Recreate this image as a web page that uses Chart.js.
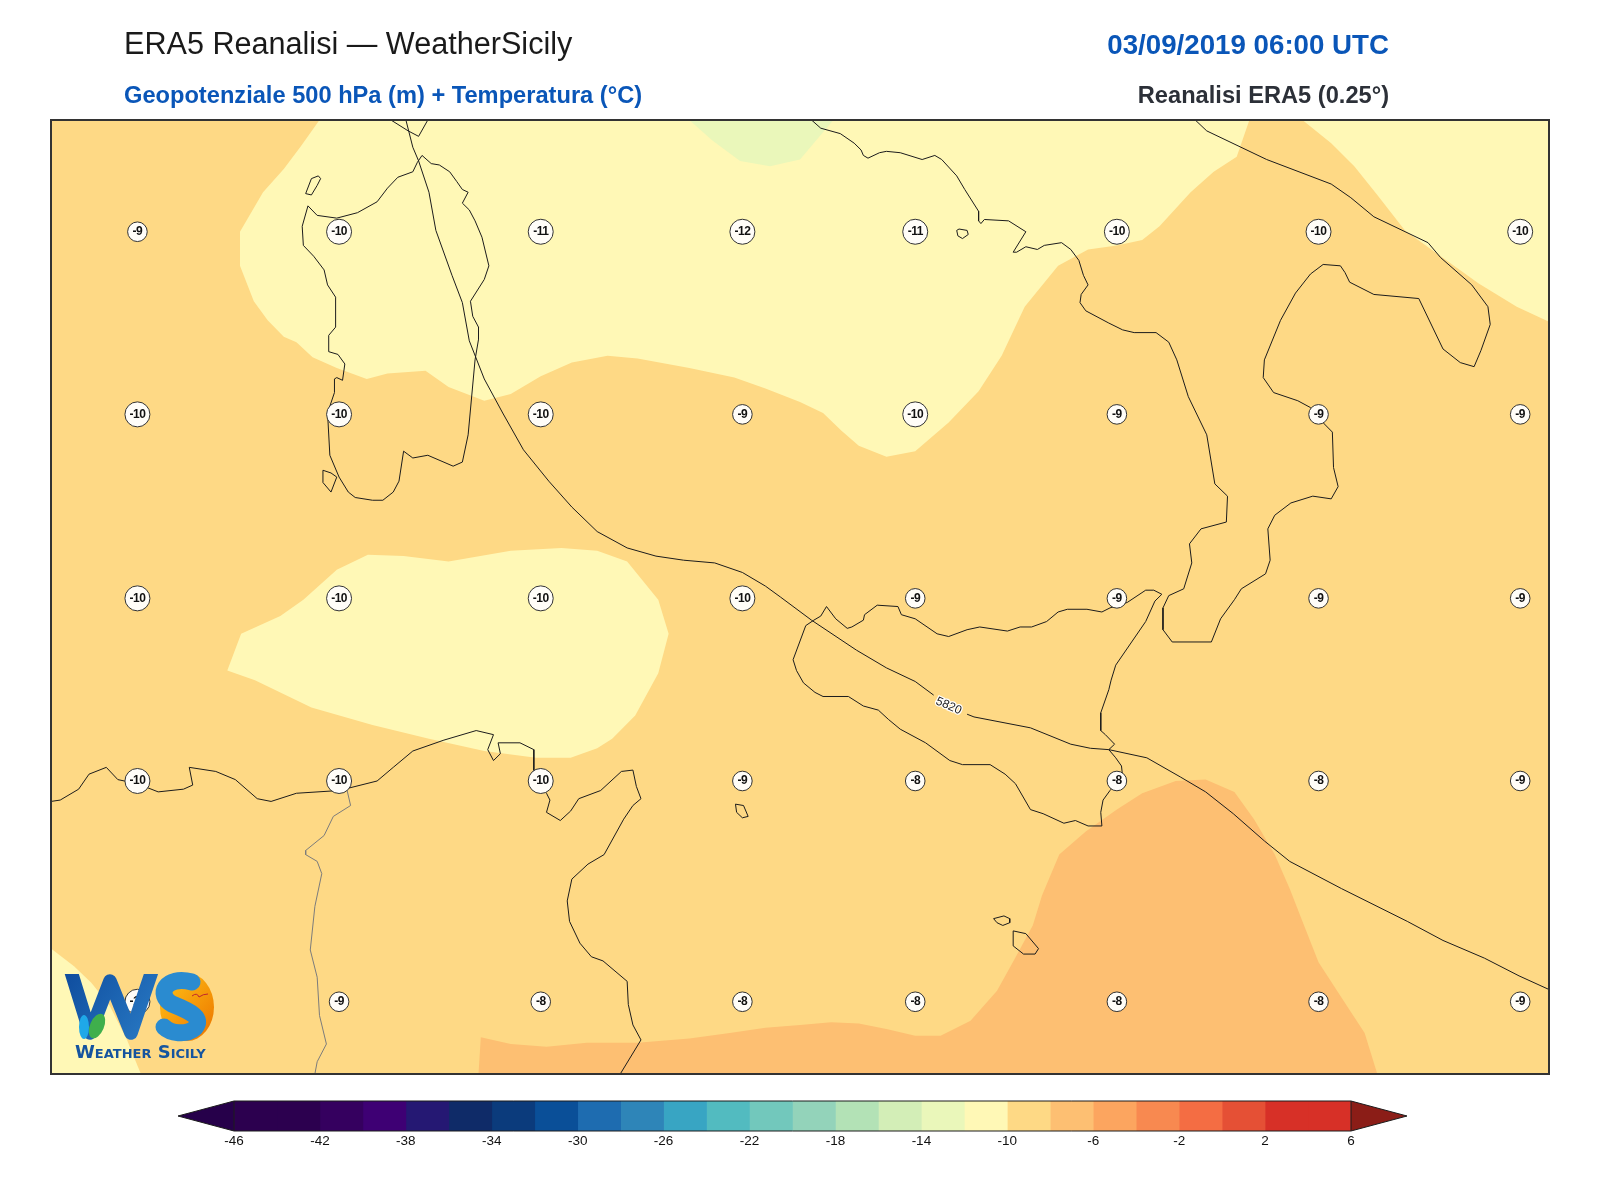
<!DOCTYPE html>
<html>
<head>
<meta charset="utf-8">
<title>ERA5 Reanalisi - WeatherSicily</title>
<script src="https://cdn.jsdelivr.net/npm/chart.js@4"></script>
<style>
  html, body { margin: 0; padding: 0; background: #fff; }
  #wrap { position: relative; width: 1600px; height: 1200px; }
  #map { position: absolute; left: 0; top: 0; }
  #bar { position: absolute; left: 0; top: 1090px; }
</style>
</head>
<body>
<div id="wrap">
  <canvas id="map" width="1600" height="1200"></canvas>
  <canvas id="bar" width="1600" height="70"></canvas>
</div>
<script>
// temperature labels at 500 hPa, one list per row of the grid
var gridLons = [6.75, 8.5, 10.25, 12, 13.5, 15.25, 17, 18.75];
var gridLats = [41.18, 39.84, 38.49, 37.15, 35.53];
var tempRow1 = [-9, -10, -11, -12, -11, -10, -10, -10];
var tempRow2 = [-10, -10, -10, -9, -10, -9, -9, -9];
var tempRow3 = [-10, -10, -10, -10, -9, -9, -9, -9];
var tempRow4 = [-10, -10, -10, -9, -8, -8, -8, -9];
var tempRow5 = [-10, -9, -8, -8, -8, -8, -8, -9];

// colour bar
var cbLevels = [-46,-44,-42,-40,-38,-36,-34,-32,-30,-28,-26,-24,-22,-20,-18,-16,-14,-12,-10,-8,-6,-4,-2,0,2,4,6];
var cbColors = ['#2c004f','#2c004f','#35005f','#3e0074','#251873','#0f2b68','#0b3b7c','#0a4f98','#1e6cb0','#2e85b8','#38a5c3','#52bbc0','#72c8bc','#93d3ba','#b3e2b6','#d3eeb7','#eaf7ba','#fff8b6','#fed985','#fdbf72','#fca55f','#f88950','#f46d43','#e55035','#d73027','#d73027'];
var cbTicks = [-46,-42,-38,-34,-30,-26,-22,-18,-14,-10,-6,-2,2,6];

// temperature bands, lon/lat
var bandBase = [[6,35],[19,35],[19,42],[6,42]];
var bandYellowNorth = [[8.33,42],[8.17,41.81],[8.02,41.64],[7.84,41.47],[7.64,41.18],[7.64,40.93],[7.76,40.67],[7.88,40.53],[8.02,40.41],[8.13,40.37],[8.27,40.26],[8.48,40.18],[8.74,40.10],[8.92,40.14],[9.25,40.16],[9.45,40.04],[9.76,39.94],[9.99,39.99],[10.25,40.12],[10.52,40.22],[10.83,40.27],[11.09,40.25],[11.54,40.18],[11.93,40.11],[12.20,40.03],[12.50,39.93],[12.70,39.85],[12.86,39.72],[13.01,39.61],[13.25,39.53],[13.50,39.57],[13.79,39.78],[14.05,40.01],[14.25,40.27],[14.45,40.63],[14.74,40.93],[15.00,41.05],[15.25,41.08],[15.47,41.12],[15.62,41.22],[15.89,41.47],[16.09,41.62],[16.29,41.73],[16.40,42]];
var bandYellowNE = [[16.86,42],[17.11,41.83],[17.31,41.66],[17.51,41.45],[17.75,41.19],[18.06,41.00],[18.39,40.80],[18.72,40.63],[19,40.52],[19,42]];
var bandGreen = [[11.54,42],[11.74,41.85],[11.98,41.70],[12.24,41.66],[12.50,41.71],[12.63,41.84],[12.79,42]];
var bandYellowSouth = [[8.75,38.81],[9.06,38.80],[9.45,38.76],[9.99,38.84],[10.43,38.86],[10.74,38.84],[11.00,38.76],[11.27,38.48],[11.36,38.23],[11.27,37.94],[11.07,37.63],[10.87,37.46],[10.74,37.39],[10.51,37.32],[10.21,37.32],[9.76,37.37],[9.28,37.46],[8.79,37.56],[8.26,37.69],[7.77,37.89],[7.53,37.96],[7.65,38.23],[7.99,38.36],[8.19,38.48],[8.48,38.70]];
var bandYellowSW = [[6,35.92],[6.20,35.79],[6.35,35.67],[6.51,35.50],[6.66,35.25],[6.78,35],[6,35]];
var bandOrange = [[9.71,35],[9.73,35.27],[9.99,35.22],[10.30,35.20],[10.65,35.23],[11.09,35.23],[11.54,35.26],[11.89,35.30],[12.20,35.34],[12.50,35.36],[12.77,35.38],[13.01,35.37],[13.25,35.33],[13.50,35.28],[13.72,35.28],[13.98,35.39],[14.21,35.61],[14.36,35.84],[14.52,36.09],[14.60,36.31],[14.75,36.61],[14.98,36.78],[15.25,36.94],[15.47,37.06],[15.76,37.15],[16.02,37.16],[16.27,37.07],[16.44,36.87],[16.62,36.61],[16.75,36.36],[16.86,36.12],[17.00,35.82],[17.20,35.56],[17.40,35.30],[17.51,35]];

// 5820 m isoline, split where its label sits
var iso5820a = [[9.08,42],[9.14,41.80],[9.19,41.70],[9.28,41.47],[9.34,41.19],[9.48,40.86],[9.57,40.66],[9.63,40.38],[9.76,40.10],[9.92,39.85],[10.10,39.58],[10.32,39.35],[10.52,39.16],[10.74,38.98],[11.00,38.86],[11.25,38.80],[11.49,38.77],[11.76,38.75],[12.00,38.68],[12.20,38.58],[12.33,38.50],[12.60,38.33],[12.99,38.11],[13.25,37.98],[13.50,37.88],[13.66,37.78]];
var iso5820b = [[13.95,37.64],[14.01,37.62],[14.50,37.54],[14.85,37.42],[15.02,37.39],[15.18,37.38],[15.51,37.32],[15.80,37.18],[16.02,37.07],[16.26,36.91],[16.53,36.71],[16.75,36.56],[17.20,36.36],[17.77,36.12],[18.08,35.98],[18.44,35.85],[18.74,35.72],[19,35.62]];
var isoLabel = [13.79, 37.70];

// coastlines
var coastSardinia = [[8.23,41.37],[8.31,41.30],[8.48,41.28],[8.66,41.32],[8.83,41.40],[8.92,41.50],[9.01,41.58],[9.14,41.62],[9.18,41.69],[9.22,41.74],[9.30,41.68],[9.37,41.67],[9.46,41.62],[9.52,41.55],[9.57,41.49],[9.62,41.47],[9.57,41.39],[9.63,41.34],[9.68,41.26],[9.74,41.14],[9.80,40.93],[9.76,40.83],[9.64,40.67],[9.66,40.56],[9.71,40.48],[9.71,40.39],[9.68,40.24],[9.62,39.69],[9.57,39.49],[9.49,39.46],[9.27,39.54],[9.14,39.52],[9.06,39.57],[9.02,39.35],[8.97,39.27],[8.88,39.21],[8.79,39.21],[8.64,39.23],[8.58,39.27],[8.50,39.38],[8.42,39.54],[8.40,39.85],[8.46,40.00],[8.46,40.10],[8.48,40.11],[8.53,40.09],[8.55,40.21],[8.49,40.28],[8.41,40.30],[8.41,40.42],[8.47,40.48],[8.47,40.70],[8.40,40.79],[8.37,40.90],[8.28,41.00],[8.19,41.08],[8.18,41.22],[8.23,41.37]];
var coastAsinara = [[8.26,41.57],[8.32,41.59],[8.34,41.57],[8.31,41.52],[8.26,41.45],[8.21,41.46],[8.26,41.57]];
var coastSanPietro = [[8.36,39.43],[8.43,39.41],[8.48,39.38],[8.43,39.27],[8.36,39.34],[8.36,39.43]];
var coastCorsica = [[8.95,42],[9.10,41.92],[9.19,41.88],[9.27,42]];
var coastItaly = [[12.60,42],[12.68,41.94],[12.85,41.90],[12.97,41.83],[13.03,41.78],[13.05,41.74],[13.09,41.72],[13.19,41.76],[13.25,41.77],[13.37,41.76],[13.56,41.71],[13.67,41.74],[13.73,41.71],[13.86,41.59],[13.93,41.49],[14.05,41.33],[14.05,41.26],[14.07,41.24],[14.10,41.27],[14.31,41.26],[14.46,41.18],[14.35,41.03],[14.38,41.03],[14.46,41.07],[14.56,41.05],[14.62,41.08],[14.77,41.10],[14.85,41.05],[14.92,40.97],[14.96,40.86],[15.00,40.79],[14.94,40.72],[14.93,40.66],[14.98,40.60],[15.18,40.51],[15.30,40.46],[15.40,40.44],[15.59,40.44],[15.70,40.37],[15.77,40.24],[15.87,39.97],[16.03,39.69],[16.10,39.33],[16.21,39.24],[16.20,39.05],[15.98,39.00],[15.88,38.89],[15.90,38.75],[15.83,38.56],[15.70,38.51],[15.65,38.42],[15.65,38.26],[15.73,38.17],[16.07,38.17],[16.15,38.34],[16.27,38.48],[16.33,38.56],[16.54,38.67],[16.58,38.77],[16.56,39.00],[16.62,39.10],[16.76,39.19],[16.95,39.24],[17.11,39.22],[17.17,39.31],[17.13,39.45],[17.12,39.71],[17.05,39.77],[16.93,39.89],[16.82,39.94],[16.61,40.00],[16.52,40.11],[16.53,40.24],[16.67,40.53],[16.80,40.73],[16.93,40.87],[17.04,40.94],[17.19,40.93],[17.23,40.88],[17.27,40.81],[17.48,40.72],[17.87,40.69],[18.08,40.32],[18.23,40.22],[18.35,40.19],[18.41,40.31],[18.49,40.50],[18.47,40.63],[18.33,40.79],[18.06,40.99],[17.95,41.10],[17.48,41.29],[17.28,41.43],[17.11,41.53],[16.55,41.71],[16.03,41.92],[15.93,42]];
var coastIschia = [[13.86,41.19],[13.88,41.20],[13.95,41.19],[13.96,41.16],[13.91,41.13],[13.87,41.15],[13.86,41.19]];
var coastSicily = [[12.55,38.29],[12.62,38.33],[12.68,38.36],[12.73,38.43],[12.81,38.34],[12.91,38.27],[12.95,38.28],[13.05,38.33],[13.06,38.37],[13.17,38.44],[13.35,38.43],[13.38,38.37],[13.50,38.34],[13.69,38.23],[13.79,38.21],[13.95,38.26],[14.06,38.28],[14.30,38.25],[14.41,38.28],[14.51,38.28],[14.64,38.32],[14.74,38.39],[14.82,38.41],[14.99,38.41],[15.12,38.39],[15.19,38.42],[15.34,38.46],[15.50,38.55],[15.57,38.55],[15.64,38.52],[15.58,38.47],[15.50,38.32],[15.24,38.00],[15.20,37.89],[15.18,37.82],[15.11,37.65],[15.11,37.52],[15.15,37.49],[15.23,37.42],[15.18,37.38],[15.24,37.32],[15.29,37.26],[15.30,37.18],[15.19,37.08],[15.13,37.01],[15.11,36.92],[15.12,36.82],[15.00,36.82],[14.89,36.86],[14.79,36.84],[14.61,36.91],[14.50,36.94],[14.37,37.13],[14.28,37.20],[14.15,37.27],[13.91,37.27],[13.80,37.30],[13.59,37.43],[13.37,37.53],[13.27,37.60],[13.18,37.67],[13.05,37.70],[12.92,37.77],[12.70,37.77],[12.63,37.80],[12.53,37.87],[12.47,37.96],[12.44,38.04],[12.55,38.29]];
var coastTunisia = [[6,37],[6.08,37.01],[6.24,37.09],[6.33,37.20],[6.48,37.25],[6.58,37.16],[6.75,37.13],[6.93,37.07],[7.15,37.09],[7.23,37.12],[7.20,37.25],[7.43,37.22],[7.60,37.16],[7.79,37.02],[7.91,37.00],[8.13,37.06],[8.50,37.08],[8.83,37.15],[8.97,37.25],[9.14,37.37],[9.41,37.45],[9.69,37.52],[9.84,37.49],[9.79,37.38],[9.84,37.30],[9.90,37.35],[9.88,37.43],[10.07,37.43],[10.19,37.38],[10.19,37.16],[10.30,37.06],[10.33,37.01],[10.30,36.92],[10.42,36.86],[10.51,36.93],[10.58,37.02],[10.77,37.08],[10.95,37.22],[11.05,37.23],[11.08,37.11],[11.12,37.02],[11.05,36.97],[10.97,36.87],[10.80,36.61],[10.66,36.54],[10.52,36.43],[10.48,36.27],[10.50,36.12],[10.59,35.96],[10.69,35.86],[10.79,35.83],[11.00,35.68],[11.01,35.51],[11.05,35.36],[11.12,35.25],[10.94,35]];
var coastPantelleria = [[11.94,36.98],[12.01,36.97],[12.05,36.89],[12.00,36.88],[11.95,36.92],[11.94,36.98]];
var coastGozo = [[14.18,36.14],[14.27,36.16],[14.32,36.14],[14.32,36.11],[14.26,36.09],[14.21,36.11],[14.18,36.14]];
var coastMalta = [[14.35,36.05],[14.46,36.03],[14.57,35.92],[14.54,35.88],[14.44,35.88],[14.35,35.94],[14.35,36.05]];
var borderTunisia = [[8.57,37.08],[8.60,36.97],[8.45,36.89],[8.37,36.75],[8.21,36.64],[8.21,36.61],[8.31,36.56],[8.35,36.47],[8.29,36.23],[8.25,35.91],[8.31,35.71],[8.33,35.43],[8.39,35.22],[8.31,35.09],[8.29,35]];

function pts(a) {
	return a.map(function(p) { return { x: p[0], y: p[1] }; });
}

function band(a, color) {
	return { data: pts(a), showLine: true, fill: 'shape', backgroundColor: color, borderWidth: 0, borderColor: color, pointRadius: 0 };
}

function line(a, color, w) {
	return { data: pts(a), showLine: true, fill: false, borderColor: color, borderWidth: w, pointRadius: 0, tension: 0 };
}

var tempRows = [tempRow1, tempRow2, tempRow3, tempRow4, tempRow5];
var bubbles = [];
for (var r = 0; r < gridLats.length; r++) {
	for (var c = 0; c < gridLons.length; c++) {
		bubbles.push({ x: gridLons[c], y: gridLats[r], v: tempRows[r][c] });
	}
}

var coastColor = '#1c1c1c';
// first in the list ends up on top
var datasets = [
	{
		data: bubbles, pointBackgroundColor: '#fffdf8', pointBorderColor: '#333', pointBorderWidth: 1,
		pointRadius: function(ctx) { return ctx.raw && ctx.raw.v <= -10 ? 12.5 : 9.8; }
	},
	line(iso5820a, coastColor, 1), line(iso5820b, coastColor, 1),
	line(borderTunisia, '#7c7c7c', 1),
	line(coastSardinia, coastColor, 1), line(coastAsinara, coastColor, 1), line(coastSanPietro, coastColor, 1),
	line(coastCorsica, coastColor, 1), line(coastItaly, coastColor, 1), line(coastIschia, coastColor, 1),
	line(coastSicily, coastColor, 1), line(coastTunisia, coastColor, 1), line(coastPantelleria, coastColor, 1),
	line(coastGozo, coastColor, 1), line(coastMalta, coastColor, 1),
	band(bandOrange, '#fdbf72'),
	band(bandGreen, '#eaf7ba'),
	band(bandYellowNorth, '#fff8b6'), band(bandYellowNE, '#fff8b6'),
	band(bandYellowSouth, '#fff8b6'), band(bandYellowSW, '#fff8b6'),
	band(bandBase, '#fed985')
];

function drawLogo(ctx) {
	ctx.save();
	// W
	ctx.beginPath();
	ctx.rect(60, 974, 110, 67);
	ctx.clip();
	var g = ctx.createLinearGradient(64, 975, 160, 1040);
	g.addColorStop(0, '#0f4d9e');
	g.addColorStop(1, '#2a7cc6');
	ctx.strokeStyle = g;
	ctx.lineWidth = 13.5;
	ctx.lineJoin = 'round';
	ctx.beginPath();
	ctx.moveTo(69, 965);
	ctx.lineTo(90, 1033);
	ctx.lineTo(110, 981);
	ctx.lineTo(131, 1033);
	ctx.lineTo(154, 965);
	ctx.stroke();
	ctx.restore();

	ctx.save();
	// drop and leaf
	ctx.fillStyle = '#1fa8e8';
	ctx.beginPath();
	ctx.ellipse(84, 1027, 5, 12, 0, 0, Math.PI * 2);
	ctx.fill();
	ctx.fillStyle = '#3faf4c';
	ctx.beginPath();
	ctx.ellipse(97, 1026, 7, 13, 0.4, 0, Math.PI * 2);
	ctx.fill();
	// sun behind the S
	var o = ctx.createLinearGradient(170, 985, 214, 1025);
	o.addColorStop(0, '#fdb813');
	o.addColorStop(1, '#ee7c00');
	ctx.fillStyle = o;
	ctx.beginPath();
	ctx.ellipse(187, 1007, 27, 34, 0, 0, Math.PI * 2);
	ctx.fill();
	// S
	ctx.strokeStyle = '#2a8bd0';
	ctx.lineWidth = 17;
	ctx.lineCap = 'round';
	ctx.beginPath();
	ctx.moveTo(192, 982);
	ctx.bezierCurveTo(165, 975, 156, 995, 172, 1004);
	ctx.bezierCurveTo(192, 1012, 203, 1018, 195, 1028);
	ctx.bezierCurveTo(186, 1036, 170, 1033, 164, 1027);
	ctx.stroke();
	// bird
	ctx.strokeStyle = '#c0272d';
	ctx.lineWidth = 1;
	ctx.lineCap = 'butt';
	ctx.beginPath();
	ctx.moveTo(192, 996);
	ctx.quadraticCurveTo(197, 992, 199, 997);
	ctx.quadraticCurveTo(203, 994, 208, 994);
	ctx.stroke();
	// name
	ctx.fillStyle = '#15549f';
	ctx.font = 'small-caps bold 18px "DejaVu Sans", sans-serif';
	ctx.textAlign = 'left';
	ctx.textBaseline = 'alphabetic';
	ctx.fillText('Weather Sicily', 75, 1058);
	ctx.restore();
}

var mapDecor = {
	id: 'mapDecor',
	afterDatasetsDraw: function(chart) {
		var ctx = chart.ctx, a = chart.chartArea, sx = chart.scales.x, sy = chart.scales.y;
		ctx.save();
		// value inside each bubble
		ctx.fillStyle = '#111';
		ctx.font = 'bold 12px "Liberation Sans", sans-serif';
		ctx.letterSpacing = '-0.5px';
		ctx.textAlign = 'center';
		ctx.textBaseline = 'middle';
		bubbles.forEach(function(b) {
			ctx.fillText(String(b.v), sx.getPixelForValue(b.x), sy.getPixelForValue(b.y));
		});
		ctx.letterSpacing = '0px';
		// isoline label
		ctx.translate(sx.getPixelForValue(isoLabel[0]), sy.getPixelForValue(isoLabel[1]));
		ctx.rotate(24 * Math.PI / 180);
		ctx.font = '12px "Liberation Sans", sans-serif';
		ctx.lineWidth = 2.5;
		ctx.strokeStyle = '#fff';
		ctx.strokeText('5820', 0, 0);
		ctx.fillStyle = '#222';
		ctx.fillText('5820', 0, 0);
		ctx.restore();

		drawLogo(ctx);

		ctx.save();
		ctx.strokeStyle = '#333';
		ctx.lineWidth = 2;
		ctx.strokeRect(a.left, a.top, a.right - a.left, a.bottom - a.top);
		ctx.textBaseline = 'alphabetic';
		ctx.textAlign = 'left';
		ctx.fillStyle = '#1a1a1a';
		ctx.font = '30.6px "Liberation Sans", sans-serif';
		ctx.fillText('ERA5 Reanalisi \u2014 WeatherSicily', 124, 54);
		ctx.fillStyle = '#0a56b8';
		ctx.font = 'bold 23.65px "Liberation Sans", sans-serif';
		ctx.fillText('Geopotenziale 500 hPa (m) + Temperatura (\u00b0C)', 124, 103);
		ctx.textAlign = 'right';
		ctx.font = 'bold 27.7px "Liberation Sans", sans-serif';
		ctx.fillText('03/09/2019 06:00 UTC', 1389, 54);
		ctx.fillStyle = '#2c3038';
		ctx.font = 'bold 23.65px "Liberation Sans", sans-serif';
		ctx.fillText('Reanalisi ERA5 (0.25\u00b0)', 1389, 103);
		ctx.restore();
	}
};

new Chart(document.getElementById('map').getContext('2d'), {
	type: 'scatter',
	data: { datasets: datasets },
	plugins: [mapDecor],
	options: {
		responsive: false,
		animation: false,
		devicePixelRatio: 1,
		layout: { padding: { left: 51, right: 51, top: 120, bottom: 126 } },
		plugins: { legend: { display: false }, tooltip: { enabled: false } },
		scales: {
			x: { type: 'linear', min: 6, max: 19, display: false },
			y: { type: 'linear', min: 35, max: 42, display: false }
		}
	}
});

// colour bar, one floating bar per level
var cbDatasets = cbColors.map(function(col, i) {
	return { data: [[cbLevels[i], cbLevels[i + 1]]], backgroundColor: col, borderWidth: 0, barPercentage: 1, categoryPercentage: 1, grouped: false };
});

var cbEnds = {
	id: 'cbEnds',
	afterDatasetsDraw: function(chart) {
		var ctx = chart.ctx, a = chart.chartArea, mid = (a.top + a.bottom) / 2;
		ctx.save();
		ctx.lineWidth = 1;
		ctx.strokeStyle = '#1c1c1c';
		ctx.fillStyle = '#26004a';
		ctx.beginPath();
		ctx.moveTo(a.left, a.top);
		ctx.lineTo(a.left - 56, mid);
		ctx.lineTo(a.left, a.bottom);
		ctx.closePath();
		ctx.fill();
		ctx.stroke();
		ctx.fillStyle = '#8b1d17';
		ctx.beginPath();
		ctx.moveTo(a.right, a.top);
		ctx.lineTo(a.right + 56, mid);
		ctx.lineTo(a.right, a.bottom);
		ctx.closePath();
		ctx.fill();
		ctx.stroke();
		ctx.beginPath();
		ctx.moveTo(a.left, a.top);
		ctx.lineTo(a.right, a.top);
		ctx.moveTo(a.left, a.bottom);
		ctx.lineTo(a.right, a.bottom);
		ctx.stroke();
		ctx.restore();
	}
};

new Chart(document.getElementById('bar').getContext('2d'), {
	type: 'bar',
	data: { labels: ['T'], datasets: cbDatasets },
	plugins: [cbEnds],
	options: {
		indexAxis: 'y',
		responsive: false,
		animation: false,
		devicePixelRatio: 1,
		layout: { padding: { left: 234, right: 249, top: 11, bottom: 0 }, autoPadding: false },
		plugins: { legend: { display: false }, tooltip: { enabled: false } },
		scales: {
			y: { display: false },
			x: {
				type: 'linear', min: -46, max: 6,
				grid: { display: false, drawTicks: false },
				border: { display: false },
				afterBuildTicks: function(s) { s.ticks = cbTicks.map(function(v) { return { value: v }; }); },
				afterFit: function(s) { s.height = 29; },
				ticks: { color: '#111', font: { family: '"Liberation Sans", sans-serif', size: 13.5 }, padding: 2, autoSkip: false, maxRotation: 0, minRotation: 0 }
			}
		}
	}
});
</script>
</body>
</html>
